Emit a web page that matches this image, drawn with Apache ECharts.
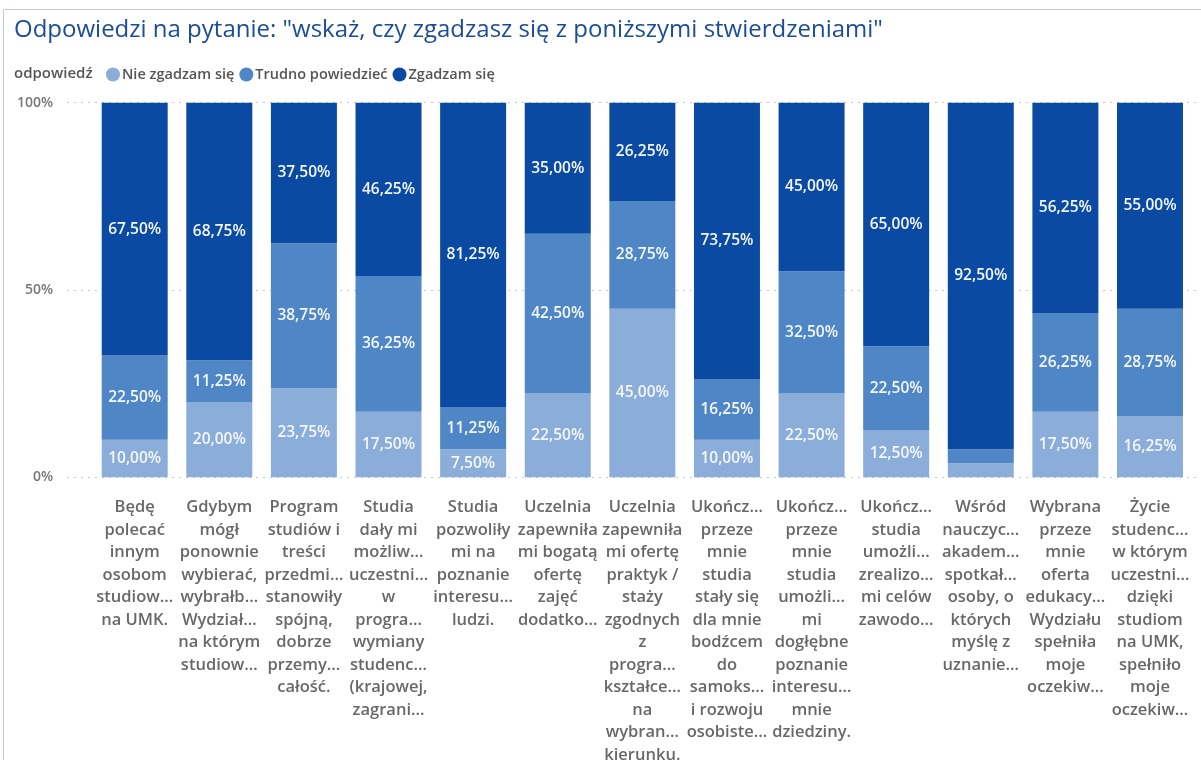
<!DOCTYPE html>
<html>
<head>
<meta charset="utf-8">
<script src="https://cdn.jsdelivr.net/npm/echarts@6/dist/echarts.min.js"></script>
<style>
  html, body { margin: 0; padding: 0; background: #fff; }
  #chart { width: 1201px; height: 760px; }
</style>
</head>
<body>
<div id="chart"></div>
<script>
// dane z ankiety - odsetki odpowiedzi
var categories = [
    'Będę\npolecać\ninnym\nosobom\nstudiow…\nna UMK.',
    'Gdybym\nmógł\nponownie\nwybierać,\nwybrałb…\nWydział…\nna którym\nstudiow…',
    'Program\nstudiów i\ntreści\nprzedmi…\nstanowiły\nspójną,\ndobrze\nprzemy…\ncałość.',
    'Studia\ndały mi\nmożliw…\nuczestni…\nw\nprogra…\nwymiany\nstudenc…\n(krajowej,\nzagrani…',
    'Studia\npozwoliły\nmi na\npoznanie\ninteresu…\nludzi.',
    'Uczelnia\nzapewniła\nmi bogatą\nofertę\nzajęć\ndodatko…',
    'Uczelnia\nzapewniła\nmi ofertę\npraktyk /\nstaży\nzgodnych\nz\nprogra…\nkształce…\nna\nwybran…\nkierunku.',
    'Ukończ…\nprzeze\nmnie\nstudia\nstały się\ndla mnie\nbodźcem\ndo\nsamoks…\ni rozwoju\nosobiste…',
    'Ukończ…\nprzeze\nmnie\nstudia\numożli…\nmi\ndogłębne\npoznanie\ninteresu…\nmnie\ndziedziny.',
    'Ukończ…\nstudia\numożli…\nzrealizo…\nmi celów\nzawodo…',
    'Wśród\nnauczyc…\nakadem…\nspotkał…\nosoby, o\nktórych\nmyślę z\nuznanie…',
    'Wybrana\nprzeze\nmnie\noferta\nedukacy…\nWydziału\nspełniła\nmoje\noczekiw…',
    'Życie\nstudenc…\nw którym\nuczestni…\ndzięki\nstudiom\nna UMK,\nspełniło\nmoje\noczekiw…'
];
var nieZgadzam = [10, 20, 23.75, 17.5, 7.5, 22.5, 45, 10, 22.5, 12.5, 3.75, 17.5, 16.25];
var trudno     = [22.5, 11.25, 38.75, 36.25, 11.25, 42.5, 28.75, 16.25, 32.5, 22.5, 3.75, 26.25, 28.75];
var zgadzam    = [67.5, 68.75, 37.5, 46.25, 81.25, 35, 26.25, 73.75, 45, 65, 92.5, 56.25, 55];
var yTicks = [0, 50, 100];

var seriesNames = ['Nie zgadzam się', 'Trudno powiedzieć', 'Zgadzam się'];
var colors = ['#8badd9', '#4f86c6', '#0a4aa3'];
var fontName = '"Open Sans", "Noto Sans", sans-serif';

var myChart = echarts.init(document.getElementById('chart'));

function fmt(p) {
    if (p.value < 5) { return ''; }
    return p.value.toFixed(2).replace('.', ',') + '%';
}

function makeSeries(name, data) {
    return {
        name: name,
        type: 'bar',
        stack: 'all',
        xAxisIndex: 1,
        yAxisIndex: 1,
        barWidth: '78%',
        data: data,
        label: {
            show: true,
            position: 'inside',
            formatter: fmt,
            color: '#f4f7fc',
            fontFamily: fontName,
            fontSize: 15.5,
            fontWeight: 600
        },
        emphasis: { disabled: true }
    };
}

var option = {
    backgroundColor: '#fff',
    color: colors,
    animation: false,
    textStyle: { fontFamily: fontName },
    title: [
        {
            text: 'Odpowiedzi na pytanie: "wskaż, czy zgadzasz się z poniższymi stwierdzeniami"',
            left: 9,
            top: 13,
            textStyle: { color: '#1a4c97', fontSize: 24, fontWeight: 'normal', fontFamily: fontName }
        },
        {
            text: 'odpowiedź',
            left: 9,
            top: 61,
            textStyle: { color: '#555', fontSize: 15, fontWeight: 600, fontFamily: fontName }
        }
    ],
    legend: {
        left: 101,
        top: 62,
        icon: 'circle',
        itemWidth: 14,
        itemHeight: 14,
        itemGap: 5,
        textStyle: { color: '#555', fontSize: 14.5, fontWeight: 600, padding: [0, 0, 0, -3] },
        data: seriesNames
    },
    graphic: [{
        type: 'rect',
        silent: true,
        shape: { x: 3.5, y: 9.5, width: 1400, height: 900 },
        style: { fill: 'none', stroke: '#c3cad6', lineWidth: 1 }
    }],
    grid: [
        { left: 67, right: 0, top: 102.7, bottom: 282.7, outerBoundsMode: 'none' },
        { left: 92.4, right: 8.7, top: 102.7, bottom: 282.7, outerBoundsMode: 'none' }
    ],
    xAxis: [
        { gridIndex: 0, type: 'category', data: categories, show: false },
        {
            gridIndex: 1,
            type: 'category',
            data: categories,
            axisLine: { show: false },
            axisTick: { show: false },
            axisLabel: {
                interval: 0,
                margin: 19,
                color: '#686868',
                fontSize: 16.5,
                fontWeight: 600,
                lineHeight: 22.5,
                align: 'center'
            }
        }
    ],
    yAxis: [
        {
            gridIndex: 0,
            type: 'value',
            min: 0,
            max: 100,
            interval: 50,
            axisLine: { show: false },
            axisTick: { show: false },
            axisLabel: {
                margin: 14,
                color: '#777',
                fontSize: 14,
                fontWeight: 600,
                formatter: function (v) { return yTicks.indexOf(v) >= 0 ? v + '%' : ''; }
            },
            splitLine: { lineStyle: { type: [2, 5], color: '#c8c8c8' } }
        },
        {
            gridIndex: 1,
            type: 'value',
            min: 0,
            max: 100,
            show: false,
            splitLine: { show: false }
        }
    ],
    series: [
        makeSeries(seriesNames[0], nieZgadzam),
        makeSeries(seriesNames[1], trudno),
        makeSeries(seriesNames[2], zgadzam)
    ]
};

myChart.setOption(option);
</script>
</body>
</html>
